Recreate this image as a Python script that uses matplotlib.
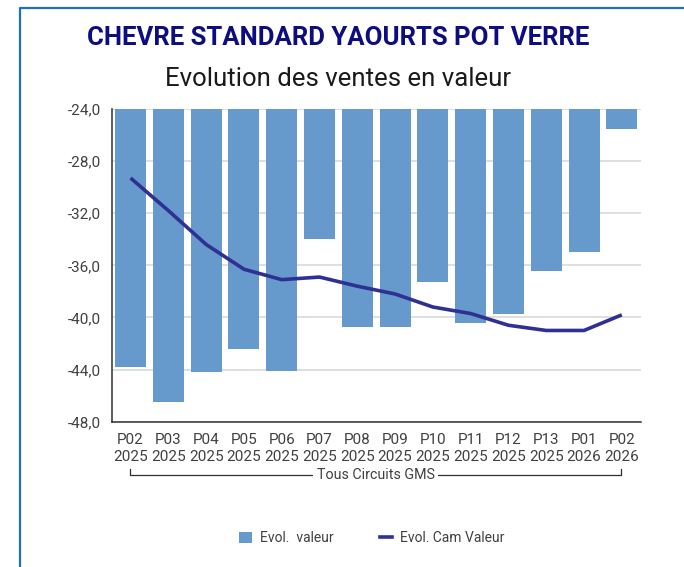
import numpy as np
import matplotlib.pyplot as plt
from matplotlib.lines import Line2D
from matplotlib.patches import Patch

plt.rcParams['font.family'] = ['Roboto', 'DejaVu Sans']

# periodes (4 semaines) et series
periodes = ['P02', 'P03', 'P04', 'P05', 'P06', 'P07', 'P08',
            'P09', 'P10', 'P11', 'P12', 'P13', 'P01', 'P02']
annees = ['2025'] * 12 + ['2026'] * 2
evol_valeur = [-43.8, -46.5, -44.2, -42.4, -44.1, -34.0, -40.7,
               -40.7, -37.3, -40.4, -39.7, -36.4, -35.0, -25.5]
evol_cam_valeur = [-29.3, -31.8, -34.4, -36.3, -37.1, -36.9, -37.6,
                   -38.2, -39.2, -39.7, -40.6, -41.0, -41.0, -39.8]
y_ticks = [-48, -44, -40, -36, -32, -28, -24]
groupe = 'Tous Circuits GMS'

BAR_COL = '#6699cc'
LINE_COL = '#2e3192'
TXT_COL = '#404040'
y_top, y_bot = -24, -48

fig = plt.figure(figsize=(6.84, 5.67), dpi=100)
ax = fig.add_axes([0.1633, 0.2563, 0.7734, 0.5515])

x = np.arange(len(periodes))
vals = np.array(evol_valeur)
ax.bar(x, vals - y_top, bottom=y_top, width=0.82, color=BAR_COL, zorder=2)
ax.plot(x, evol_cam_valeur, color=LINE_COL, lw=2.6, zorder=3,
        solid_capstyle='butt')

ax.set_xlim(-0.5, len(periodes) - 0.5)
ax.set_ylim(y_bot, y_top)
ax.set_yticks(y_ticks)
ax.set_yticklabels([f'{t:.1f}'.replace('.', ',') for t in y_ticks])
ax.set_xticks(x)
ax.set_xticklabels([f'{p}\n{a}' for p, a in zip(periodes, annees)],
                   linespacing=1.25)
ax.tick_params(axis='both', length=0, labelsize=11, labelcolor=TXT_COL)
ax.tick_params(axis='y', pad=8)
ax.tick_params(axis='x', pad=8)
ax.yaxis.grid(True, color='#d9d9d9', lw=1.2, zorder=0)
ax.set_axisbelow(True)
for s in ['top', 'right']:
    ax.spines[s].set_visible(False)
for s in ['left', 'bottom']:
    ax.spines[s].set_color('#303030')
    ax.spines[s].set_linewidth(1.1)

# accolade de regroupement sous les etiquettes
trans = ax.get_xaxis_transform()
x0, x1 = x[0] - 0.02, x[-1] - 0.02
ax.plot([x0, x0, x1, x1], [-0.152, -0.170, -0.170, -0.152], color='#303030',
        lw=0.9, transform=trans, clip_on=False)
ax.text((x0 + x1) / 2, -0.170, groupe, transform=trans, ha='center',
        va='center', fontsize=10.3, color=TXT_COL,
        bbox=dict(facecolor='white', edgecolor='none', pad=2.5))

fig.text(0.494, 0.933, 'CHEVRE STANDARD YAOURTS POT VERRE', ha='center',
         va='center', fontsize=18.5, fontweight='bold', color='#0d0d80')
fig.text(0.494, 0.86, 'Evolution des ventes en valeur', ha='center',
         va='center', fontsize=18.5, color='#1a1a1a')

handles = [Patch(facecolor=BAR_COL, edgecolor='none'),
           Line2D([0], [0], color=LINE_COL, lw=2.6)]
fig.legend(handles, ['Evol.  valeur', 'Evol. Cam Valeur'], ncol=2,
           loc='center', bbox_to_anchor=(0.544, 0.051), frameon=False,
           fontsize=10, labelcolor=TXT_COL, handlelength=0.9,
           handleheight=0.9, handletextpad=0.6, columnspacing=3.3)

# cadre bleu du panneau
fig.add_artist(Line2D([20 / 684, 20 / 684, 1.0], [0.0, 1 - 8 / 567, 1 - 8 / 567],
                      color='#1f6fc5', lw=1.6, transform=fig.transFigure))

fig.savefig('out.png', dpi=100)
